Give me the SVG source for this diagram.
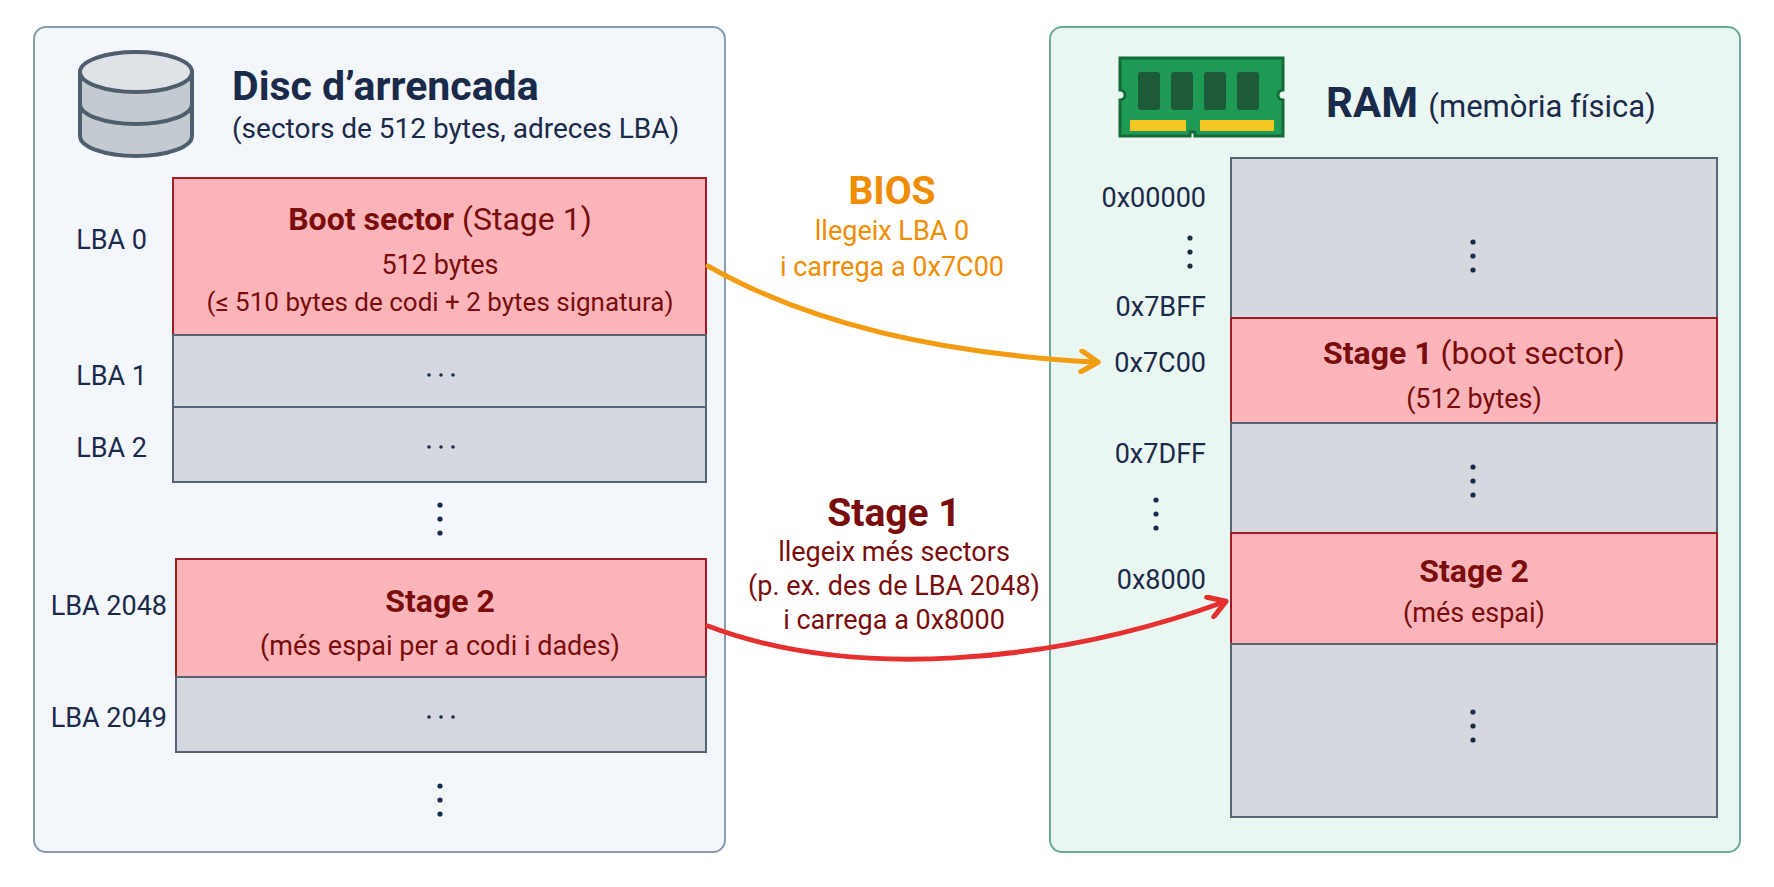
<svg xmlns="http://www.w3.org/2000/svg" width="1774" height="887" viewBox="0 0 1774 887">
<defs>
<style>
text{font-family:Roboto,"Liberation Sans",sans-serif;fill:#1a2a4a}
.lbl{font-size:27px;text-anchor:end}
.c{text-anchor:middle}
.pink{fill:#fbb5ba;stroke:#a11d24;stroke-width:2}
.gray{fill:#d5d8de;stroke:#566476;stroke-width:2}
.dr{fill:#7a0c0c}
.dot{fill:#1a2a4a}
</style>
<marker id="ao" viewBox="0 0 12 12" refX="9" refY="6" markerWidth="5" markerHeight="5" orient="auto"><path d="M2,1 L10,6 L2,11" fill="none" stroke="#f39c12" stroke-width="2.5" stroke-linecap="round" stroke-linejoin="round"/></marker>
<marker id="ar" viewBox="0 0 12 12" refX="9" refY="6" markerWidth="5" markerHeight="5" orient="auto"><path d="M2,1 L10,6 L2,11" fill="none" stroke="#e53030" stroke-width="2.5" stroke-linecap="round" stroke-linejoin="round"/></marker>
<g id="vd"><circle cx="0" cy="0" r="2.6"/><circle cx="0" cy="14" r="2.6"/><circle cx="0" cy="28" r="2.6"/></g>
<g id="hd"><circle cx="-12" cy="0" r="1.8"/><circle cx="0" cy="0" r="1.8"/><circle cx="12" cy="0" r="1.8"/></g>
</defs>
<rect width="1774" height="887" fill="#ffffff"/>

<g id="disk-panel">
<rect x="34" y="27" width="691" height="825" rx="12" fill="#f3f7fb" stroke="#8a9bb0" stroke-width="2"/>
<g id="disk-icon" stroke="#4f5d6c" stroke-width="4">
<path d="M80,72 V136 A56,20 0 0 0 192,136 V72" fill="#c4cad1"/>
<path d="M80,104 A56,20 0 0 0 192,104" fill="none"/>
<ellipse cx="136" cy="72" rx="56" ry="20" fill="#dfe3e7"/>
</g>
<text x="232" y="100" font-size="41" font-weight="bold">Disc d’arrencada</text>
<text x="232" y="138" font-size="28">(sectors de 512 bytes, adreces LBA)</text>
</g>

<g id="lba0"><rect class="pink" x="173" y="178" width="533" height="157"/>
<text class="c dr" x="440" y="230" font-size="32"><tspan font-weight="bold">Boot sector</tspan> (Stage 1)</text>
<text class="c dr" x="440" y="274" font-size="27">512 bytes</text>
<text class="c dr" x="440" y="311" font-size="26">(≤ 510 bytes de codi + 2 bytes signatura)</text>
<text class="lbl" x="147" y="249">LBA 0</text></g>
<g id="lba1"><rect class="gray" x="173" y="335" width="533" height="72"/><use href="#hd" x="441" y="375" class="dot"/><text class="lbl" x="147" y="385">LBA 1</text></g>
<g id="lba2"><rect class="gray" x="173" y="407" width="533" height="75"/><use href="#hd" x="441" y="447" class="dot"/><text class="lbl" x="147" y="457">LBA 2</text></g>
<use href="#vd" x="440" y="505" class="dot"/>
<g id="lba2048"><rect class="pink" x="176" y="559" width="530" height="118"/>
<text class="c dr" x="440" y="612" font-size="32" font-weight="bold">Stage 2</text>
<text class="c dr" x="440" y="655" font-size="27">(més espai per a codi i dades)</text>
<text class="lbl" x="167" y="615">LBA 2048</text></g>
<g id="lba2049"><rect class="gray" x="176" y="677" width="530" height="75"/><use href="#hd" x="441" y="717" class="dot"/><text class="lbl" x="167" y="727">LBA 2049</text></g>
<use href="#vd" x="440" y="786" class="dot"/>

<g id="ram-panel">
<rect x="1050" y="27" width="690" height="825" rx="12" fill="#eaf6f1" stroke="#6aab99" stroke-width="2"/>
<g id="ram-icon">
<path d="M1120,58 H1283 V90 A5,5 0 0 0 1283,100 V136 H1195 V132 H1190 V136 H1120 V100 A5,5 0 0 0 1120,90 Z" fill="#1f9a55" stroke="#146b3a" stroke-width="3"/>
<rect x="1138" y="72" width="22" height="38" rx="3" fill="#1d5a3a"/><rect x="1171" y="72" width="22" height="38" rx="3" fill="#1d5a3a"/><rect x="1204" y="72" width="22" height="38" rx="3" fill="#1d5a3a"/><rect x="1237" y="72" width="22" height="38" rx="3" fill="#1d5a3a"/>
<rect x="1130" y="120" width="56" height="11" fill="#f3c623"/><rect x="1200" y="120" width="74" height="11" fill="#f3c623"/>
</g>
<text x="1326" y="117" font-size="42" font-weight="bold">RAM <tspan font-size="31" font-weight="normal">(memòria física)</tspan></text>
</g>

<g id="ram-top"><rect class="gray" x="1231" y="158" width="486" height="160"/><use href="#vd" x="1473" y="242" class="dot"/></g>
<g id="ram-stage1"><rect class="pink" x="1231" y="318" width="486" height="105"/>
<text class="c dr" x="1474" y="364" font-size="32"><tspan font-weight="bold">Stage 1</tspan> (boot sector)</text>
<text class="c dr" x="1474" y="408" font-size="27">(512 bytes)</text></g>
<g id="ram-mid"><rect class="gray" x="1231" y="423" width="486" height="110"/><use href="#vd" x="1473" y="467" class="dot"/></g>
<g id="ram-stage2"><rect class="pink" x="1231" y="533" width="486" height="111"/>
<text class="c dr" x="1474" y="582" font-size="32" font-weight="bold">Stage 2</text>
<text class="c dr" x="1474" y="622" font-size="27">(més espai)</text></g>
<g id="ram-bottom"><rect class="gray" x="1231" y="644" width="486" height="173"/><use href="#vd" x="1473" y="712" class="dot"/></g>

<g id="addresses">
<text class="lbl" x="1206" y="207">0x00000</text>
<use href="#vd" x="1190" y="238" class="dot"/>
<text class="lbl" x="1206" y="316">0x7BFF</text>
<text class="lbl" x="1206" y="372">0x7C00</text>
<text class="lbl" x="1206" y="463">0x7DFF</text>
<use href="#vd" x="1156" y="500" class="dot"/>
<text class="lbl" x="1206" y="589">0x8000</text>
</g>

<g id="connectors" fill="none" stroke-width="5" stroke-linecap="round">
<path d="M708,266 C820,330 960,355 1096,362" stroke="#f39c12" marker-end="url(#ao)"/>
<path d="M708,626 C850,680 1050,665 1224,602" stroke="#e53030" marker-end="url(#ar)"/>
</g>
<g id="labels">
<text class="c" x="892" y="204" font-size="39" font-weight="bold" style="fill:#f08c00">BIOS</text>
<text class="c" x="892" y="240" font-size="27" style="fill:#f08c00">llegeix LBA 0</text>
<text class="c" x="892" y="276" font-size="27" style="fill:#f08c00">i carrega a 0x7C00</text>
<text class="c dr" x="894" y="526" font-size="39" font-weight="bold">Stage 1</text>
<text class="c dr" x="894" y="561" font-size="27">llegeix més sectors</text>
<text class="c dr" x="894" y="595" font-size="27">(p. ex. des de LBA 2048)</text>
<text class="c dr" x="894" y="629" font-size="27">i carrega a 0x8000</text>
</g>
</svg>
